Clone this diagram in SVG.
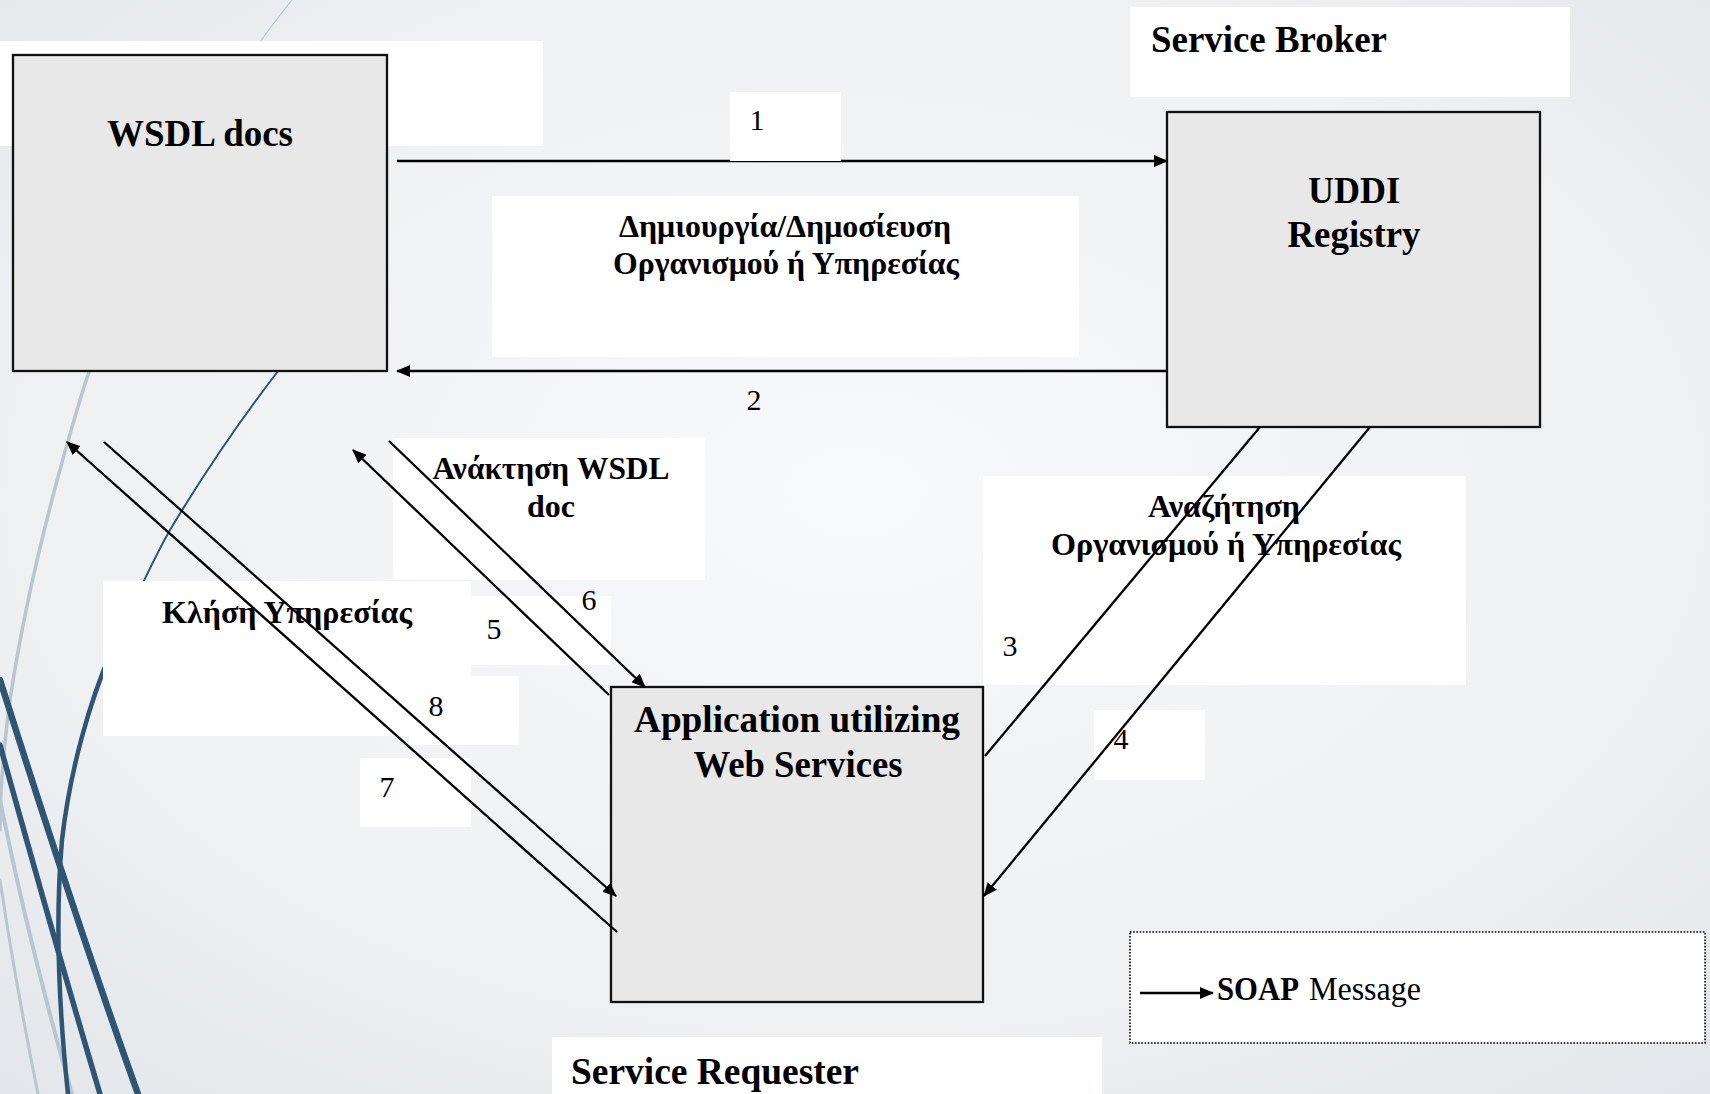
<svg xmlns="http://www.w3.org/2000/svg" width="1710" height="1094" viewBox="0 0 1710 1094">
  <defs>
    <radialGradient id="bg" cx="0.5" cy="0.45" r="0.8">
      <stop offset="0" stop-color="#f8f9fa"/>
      <stop offset="0.6" stop-color="#eef0f2"/>
      <stop offset="1" stop-color="#e0e4e8"/>
    </radialGradient>
    <marker id="head" viewBox="0 0 14 12" refX="13" refY="6" markerWidth="14" markerHeight="12" markerUnits="userSpaceOnUse" orient="auto">
      <path d="M0,0 L14,6 L0,12 z" fill="#000"/>
    </marker>
    <style>
      .box { fill: #e8e8e8; stroke: #111; stroke-width: 2.3; }
      .pad { fill: #ffffff; }
      .head { font-family: "Liberation Serif", "Times New Roman", serif; font-weight: bold; font-size: 37px; fill: #000; }
      .lbl { font-family: "Liberation Serif", "Times New Roman", serif; font-weight: bold; font-size: 32px; fill: #000; }
      .num { font-family: "Liberation Serif", "Times New Roman", serif; font-size: 30px; fill: #000; text-anchor: middle; }
      .mid { text-anchor: middle; }
      .wire { stroke: #000; stroke-width: 2.3; fill: none; }
      .swirl-dark { stroke: #2f5573; fill: none; stroke-linecap: round; }
      .swirl-light { stroke: #b9c6d0; fill: none; stroke-linecap: round; }
    </style>
  </defs>

  <!-- backdrop -->
  <rect x="0" y="0" width="1710" height="1094" fill="url(#bg)"/>

  <!-- decorative swirl on the left edge -->
  <g id="swirl">
    <path class="swirl-light" stroke-width="1.2" d="M292,0 C270,28 262,38 250,56"/>
    <path class="swirl-light" stroke-width="3.5" d="M250,56 C170,180 110,300 80,400 C50,500 25,600 10,700 C2,760 0,800 0,830"/>
    <path class="swirl-light" stroke-width="4" d="M0,800 C20,900 45,1000 72,1094"/>
    <path class="swirl-light" stroke-width="3" d="M0,880 C12,960 25,1030 38,1094"/>
    <path class="swirl-dark" stroke-width="2" d="M282,366 C240,420 200,480 170,530 C150,565 130,610 112,650"/>
    <path class="swirl-dark" stroke-width="4.5" d="M112,650 C90,700 70,770 62,840 C55,920 58,1000 68,1094"/>
    <path class="swirl-dark" stroke-width="6.5" d="M0,680 C38,800 88,955 138,1094"/>
    <path class="swirl-dark" stroke-width="5.5" d="M0,745 C32,860 66,980 100,1094"/>
  </g>

  <!-- white label pads -->
  <g id="pads">
    <rect class="pad" x="0" y="41" width="543" height="105"/>
    <rect class="pad" x="1130" y="7" width="440" height="90"/>
    <rect class="pad" x="492" y="196" width="587" height="161"/>
    <rect class="pad" x="393" y="438" width="312" height="142"/>
    <rect class="pad" x="103" y="581" width="368" height="155"/>
    <rect class="pad" x="471" y="596" width="140" height="69"/>
    <rect class="pad" x="409" y="676" width="110" height="69"/>
    <rect class="pad" x="360" y="758" width="111" height="69"/>
    <rect class="pad" x="983" y="476" width="483" height="209"/>
    <rect class="pad" x="1094" y="710" width="111" height="70"/>
    <rect class="pad" x="552" y="1037" width="550" height="57"/>
  </g>

  <!-- nodes -->
  <g id="wsdl-docs">
    <rect class="box" x="13" y="55" width="374" height="316"/>
    <text class="head mid" x="200" y="146" textLength="186" lengthAdjust="spacingAndGlyphs">WSDL docs</text>
  </g>

  <g id="service-broker">
    <text class="head" x="1151" y="52" textLength="236" lengthAdjust="spacingAndGlyphs">Service Broker</text>
  </g>

  <g id="uddi-registry">
    <rect class="box" x="1167" y="112" width="373" height="315"/>
    <text class="head mid" x="1354" y="203" font-size="36" textLength="92" lengthAdjust="spacingAndGlyphs">UDDI</text>
    <text class="head mid" x="1354" y="247" font-size="36" textLength="133" lengthAdjust="spacingAndGlyphs">Registry</text>
  </g>

  <g id="application">
    <rect class="box" x="611" y="687" width="372" height="315"/>
    <text class="head mid" x="797" y="732" textLength="326" lengthAdjust="spacingAndGlyphs">Application utilizing</text>
    <text class="head mid" x="798" y="777" textLength="209" lengthAdjust="spacingAndGlyphs">Web Services</text>
  </g>

  <g id="service-requester">
    <text class="head" x="571" y="1084" textLength="288" lengthAdjust="spacingAndGlyphs">Service Requester</text>
  </g>

  <!-- edge captions -->
  <g id="captions">
    <text class="lbl mid" x="785" y="237" textLength="332" lengthAdjust="spacingAndGlyphs">Δημιουργία/Δημοσίευση</text>
    <text class="lbl mid" x="786" y="274" textLength="346" lengthAdjust="spacingAndGlyphs">Οργανισμού ή Υπηρεσίας</text>
    <text class="lbl mid" x="551" y="479" font-size="33" textLength="237" lengthAdjust="spacingAndGlyphs">Ανάκτηση WSDL</text>
    <text class="lbl mid" x="551" y="517" font-size="33" textLength="48" lengthAdjust="spacingAndGlyphs">doc</text>
    <text class="lbl mid" x="287" y="623" font-size="31" textLength="250" lengthAdjust="spacingAndGlyphs">Κλήση Υπηρεσίας</text>
    <text class="lbl mid" x="1224" y="517" font-size="31" textLength="152" lengthAdjust="spacingAndGlyphs">Αναζήτηση</text>
    <text class="lbl mid" x="1226" y="555" font-size="31" textLength="350" lengthAdjust="spacingAndGlyphs">Οργανισμού ή Υπηρεσίας</text>
  </g>

  <!-- connectors -->
  <g id="connectors">
    <line class="wire" x1="397" y1="161" x2="1167" y2="161" marker-end="url(#head)"/>
    <line class="wire" x1="1167" y1="371" x2="397" y2="371" marker-end="url(#head)"/>
    <line class="wire" x1="985" y1="756" x2="1260" y2="427"/>
    <line class="wire" x1="1370" y1="427" x2="984" y2="896" marker-end="url(#head)"/>
    <line class="wire" x1="609" y1="695" x2="353" y2="450" marker-end="url(#head)"/>
    <line class="wire" x1="389" y1="441" x2="645" y2="687" marker-end="url(#head)"/>
    <line class="wire" x1="617" y1="932" x2="67" y2="442" marker-end="url(#head)"/>
    <line class="wire" x1="104" y1="442" x2="616" y2="896" marker-end="url(#head)"/>
  </g>

  <!-- step numbers -->
  <g id="steps">
    <rect class="pad" x="730" y="92" width="111" height="69"/>
    <text class="num" x="757" y="130">1</text>
    <text class="num" x="754" y="410">2</text>
    <text class="num" x="1010" y="656">3</text>
    <text class="num" x="1121" y="749">4</text>
    <text class="num" x="494" y="639">5</text>
    <text class="num" x="589" y="610">6</text>
    <text class="num" x="387" y="797">7</text>
    <text class="num" x="436" y="716">8</text>
  </g>

  <!-- legend -->
  <g id="legend">
    <rect x="1130" y="932" width="575" height="111" fill="#fff" stroke="#000" stroke-width="1.6" stroke-dasharray="1.6 1.6"/>
    <line class="wire" x1="1140" y1="993" x2="1213" y2="993" marker-end="url(#head)"/>
    <text x="1217" y="1000" font-family="Liberation Serif, Times New Roman, serif" font-size="34" fill="#000"><tspan font-weight="bold" textLength="82" lengthAdjust="spacingAndGlyphs">SOAP</tspan><tspan dx="10" textLength="112" lengthAdjust="spacingAndGlyphs">Message</tspan></text>
  </g>
</svg>
